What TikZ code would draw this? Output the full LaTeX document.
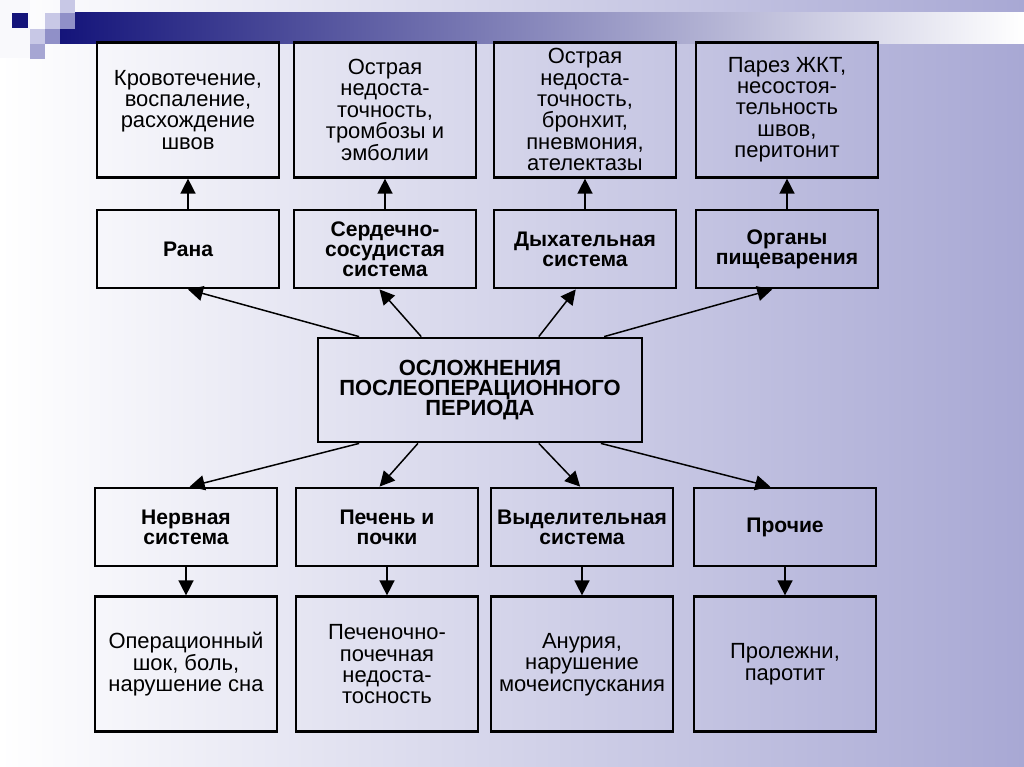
\documentclass[tikz,border=0pt]{standalone}
\usepackage{fontspec}
\setmainfont{Liberation Sans}
\usetikzlibrary{positioning,calc,arrows.meta}
\definecolor{lav}{RGB}{168,168,212}
\definecolor{navy}{RGB}{20,20,122}
\definecolor{sqpale}{RGB}{200,200,230}
\definecolor{sqmid}{RGB}{144,144,200}
\tikzset{
	mybox/.style={draw, line width=1.6pt, minimum width=3.64cm, inner sep=0pt, align=center,
		font=\fontsize{12.5}{12.2}\selectfont},
	myres/.style={mybox, minimum height=2.7cm},
	mysys/.style={mybox, minimum height=1.56cm, font=\bfseries\fontsize{12}{11.4}\selectfont},
	myarrow/.style={-{Triangle[length=8.5pt,width=8.5pt]}, line width=0.85pt}
}

\begin{document}
\begin{tikzpicture}[x=0.02cm, y=-0.02cm]
	% background
	\useasboundingbox (0,0) rectangle (1024,767);
	\shade[left color=white, right color=lav] (0,0) rectangle (1024,767);
	\shade[left color=navy, middle color={rgb,255:red,176;green,176;blue,198}, right color=white] (60,13) rectangle (1024,44);
	\fill[white!90!sqpale] (0,0) rectangle (30,58);
	\fill[navy] (12,13) rectangle (28,28);
	\fill[sqpale] (45,13) rectangle (60,29);
	\fill[sqpale] (60,0) rectangle (75,13);
	\fill[sqmid] (60,13) rectangle (75,29);
	\fill[sqpale] (30,29) rectangle (45,44);
	\fill[sqmid] (45,29) rectangle (60,44);
	\fill[sqmid!80!white] (30,44) rectangle (45,59);
	
	% centre
	\node[mybox, minimum width=6.48cm, minimum height=2.08cm, font=\bfseries\fontsize{12.5}{11.3}\selectfont] (main) at (480,390)
		{ОСЛОЖНЕНИЯ\\ПОСЛЕОПЕРАЦИОННОГО\\ПЕРИОДА};
	
	% upper systems
	\node[mysys] (sys1) at (188,249) {Рана};
	\node[mysys] (sys2) at (385,249) {Сердечно-\\сосудистая\\система};
	\node[mysys] (sys3) at (585,249) {Дыхательная\\система};
	\node[mysys] (sys4) at (787,249) {Органы\\пищеварения};
	\node[myres, above=0.6cm of sys1] (res1) {Кровотечение,\\воспаление,\\расхождение\\швов};
	\node[myres, above=0.6cm of sys2] (res2) {Острая\\недоста-\\точность,\\тромбозы и\\эмболии};
	\node[myres, above=0.6cm of sys3] (res3) {Острая\\недоста-\\точность,\\бронхит,\\пневмония,\\ателектазы};
	\node[myres, above=0.6cm of sys4] (res4) {Парез ЖКТ,\\несостоя-\\тельность\\швов,\\перитонит};
	
	% lower systems
	\node[mysys] (sys5) at (186,527) {Нервная\\система};
	\node[mysys] (sys6) at (387,527) {Печень и\\почки};
	\node[mysys] (sys7) at (582,527) {Выделительная\\система};
	\node[mysys] (sys8) at (785,527) {Прочие};
	\node[myres, below=0.56cm of sys5] (res5) {Операционный\\шок, боль,\\нарушение сна};
	\node[myres, below=0.56cm of sys6] (res6) {Печеночно-\\почечная\\недоста-\\тосность};
	\node[myres, below=0.56cm of sys7] (res7) {Анурия,\\нарушение\\мочеиспускания};
	\node[myres, below=0.56cm of sys8] (res8) {Пролежни,\\паротит};
	
	\foreach \s/\f/\g in {sys1/0.13/0.5, sys2/0.32/0.47, sys3/0.68/0.45, sys4/0.88/0.42}
		\draw[myarrow] ($(main.north west)!\f!(main.north east)$) -- ($(\s.south west)!\g!(\s.south east)$);
	\foreach \s/\f/\g in {sys5/0.13/0.52, sys6/0.31/0.46, sys7/0.68/0.49, sys8/0.87/0.42}
		\draw[myarrow] ($(main.south west)!\f!(main.south east)$) -- ($(\s.north west)!\g!(\s.north east)$);
	\foreach \i in {1,...,4}
		\draw[myarrow] (sys\i) -- (res\i);
	\foreach \i in {5,...,8}
		\draw[myarrow] (sys\i) -- (res\i);
\end{tikzpicture}
\end{document}
